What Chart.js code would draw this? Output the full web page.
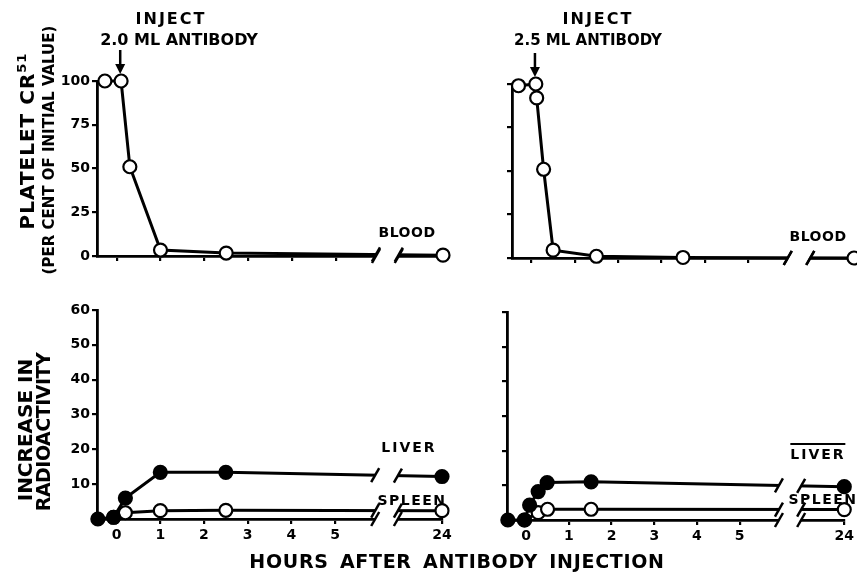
<!DOCTYPE html>
<html lang="en">
<head>
    <meta charset="UTF-8">
    <title>Platelet Cr51 after antibody injection</title>
    <script src="https://cdn.jsdelivr.net/npm/chart.js"></script>
    <style>
        body, html {
            margin: 0;
            padding: 0;
            width: 857px;
            height: 574px;
            overflow: hidden;
            background: #fff;
        }
        canvas {
            position: absolute;
            left: 0;
            top: 0;
        }
        .t {
            position: absolute;
            font-family: "DejaVu Sans", sans-serif;
            font-weight: bold;
            color: #000;
            white-space: nowrap;
            line-height: 1;
            transform: translate(-50%, -50%);
        }
        .v {
            transform: translate(-50%, -50%) rotate(-90deg);
        }
    </style>
</head>
<body>
    <canvas id="bloodA" width="857" height="574"></canvas>
    <canvas id="bloodB" width="857" height="574"></canvas>
    <canvas id="organA" width="857" height="574"></canvas>
    <canvas id="organB" width="857" height="574"></canvas>

    <div class="t" style="left:171px;top:19px;font-size:16px;letter-spacing:2px">INJECT</div>
    <div class="t" style="left:179px;top:40px;font-size:16px">2.0 ML ANTIBODY</div>
    <div class="t" style="left:598px;top:19px;font-size:16px;letter-spacing:2px">INJECT</div>
    <div class="t" style="left:588px;top:40px;font-size:15px">2.5 ML ANTIBODY</div>

    <div class="t" style="left:407px;top:232px;font-size:14px;letter-spacing:0.5px">BLOOD</div>
    <div class="t" style="left:818px;top:236px;font-size:14px;letter-spacing:0.5px">BLOOD</div>
    <div class="t" style="left:409px;top:447px;font-size:14px;letter-spacing:2px">LIVER</div>
    <div class="t" style="left:412px;top:500px;font-size:14px;letter-spacing:1.5px">SPLEEN</div>
    <div class="t" style="left:818px;top:452px;font-size:14px;letter-spacing:2px;border-top:2px solid #000;padding-top:2px">LIVER</div>
    <div class="t" style="left:823px;top:499px;font-size:14px;letter-spacing:1.5px">SPLEEN</div>

    <div class="t v" style="left:26px;top:141px;font-size:20px;letter-spacing:1px">PLATELET CR<sup style="font-size:13px">51</sup></div>
    <div class="t v" style="left:49px;top:150px;font-size:15px">(PER CENT OF INITIAL VALUE)</div>
    <div class="t v" style="left:25px;top:430px;font-size:20px">INCREASE IN</div>
    <div class="t v" style="left:43px;top:432px;font-size:19px;letter-spacing:-0.5px">RADIOACTIVITY</div>

    <div class="t" style="left:457px;top:561px;font-size:19px;letter-spacing:0.7px;word-spacing:4px">HOURS AFTER ANTIBODY INJECTION</div>

    <script>
        // x axis ticks (hours); 24 h sits after the axis break
        const hourTicks = [0, 1, 2, 3, 4, 5, 24];
        const hourLabels = ['0', '1', '2', '3', '4', '5', '24'];
        const bloodTicks = [0, 25, 50, 75, 100];
        const bloodTickLabels = ['0', '25', '50', '75', '100'];
        const organTicks = [0, 10, 20, 30, 40, 50, 60];
        const organTickLabels = ['', '10', '20', '30', '40', '50', '60'];

        // 2.0 ml antibody
        const bloodHoursA = [-0.27, 0.1, 0.3, 1, 2.5, 24];
        const bloodPctA = [100, 100, 51, 3.4, 1.7, 0.5];
        const liverHoursA = [-0.43, -0.07, 0.2, 1, 2.5, 24];
        const liverA = [0, 0.5, 6, 13.4, 13.4, 12.2];
        const spleenHoursA = [-0.07, 0.2, 1, 2.5, 24];
        const spleenA = [0.5, 1.8, 2.4, 2.5, 2.4];

        // 2.5 ml antibody
        const bloodHoursB = [-0.3, 0.1, 0.12, 0.28, 0.5, 1.5, 3.5, 24];
        const bloodPctB = [99, 100, 92, 51, 4.5, 1, 0.3, 0];
        const liverHoursB = [-0.43, -0.04, 0.08, 0.28, 0.49, 1.52, 24];
        const liverB = [0, 0, 4.3, 8.2, 10.8, 11, 9.6];
        const spleenHoursB = [-0.04, 0.28, 0.5, 1.52, 24];
        const spleenB = [0, 2.1, 3.1, 3.1, 3];

        const injectionHour = 0.08;
        const breakFrom = 5.92, breakTo = 6.44, axisAt24 = 7.45;
        const toAxis = h => (h >= 24 ? axisAt24 : h);

        const tickFont = { family: 'DejaVu Sans', weight: 'bold', size: 14 };

        function yAt(pts, px) {
            for (let k = 0; k < pts.length - 1; k++) {
                const a = pts[k], b = pts[k + 1];
                if (a.x <= px && b.x >= px) {
                    return a.y + (b.y - a.y) * (px - a.x) / (b.x - a.x);
                }
            }
            return null;
        }

        function slash(ctx, x, y) {
            ctx.beginPath();
            ctx.moveTo(x - 4, y + 7);
            ctx.lineTo(x + 4, y - 7);
            ctx.stroke();
        }

        const breakPlugin = {
            id: 'axisBreak',
            afterDatasetsDraw(chart) {
                const { ctx, chartArea: a, scales: { x } } = chart;
                const x1 = x.getPixelForValue(breakFrom);
                const x2 = x.getPixelForValue(breakTo);
                ctx.save();
                ctx.clearRect(x1, a.top - 12, x2 - x1, a.bottom - a.top + 16);
                ctx.strokeStyle = '#000';
                ctx.lineWidth = 2.5;
                slash(ctx, x1, a.bottom);
                slash(ctx, x2, a.bottom);
                chart.data.datasets.forEach((d, i) => {
                    const pts = chart.getDatasetMeta(i).data;
                    const y1 = yAt(pts, x1), y2 = yAt(pts, x2);
                    if (y1 !== null) slash(ctx, x1, y1);
                    if (y2 !== null) slash(ctx, x2, y2);
                });
                ctx.restore();
            }
        };

        const injectPlugin = {
            id: 'inject',
            afterDraw(chart, args, opts) {
                if (!opts.show) return;
                const { ctx, chartArea: a, scales: { x } } = chart;
                const px = x.getPixelForValue(injectionHour);
                const tip = a.top - 7;
                ctx.save();
                ctx.strokeStyle = '#000';
                ctx.fillStyle = '#000';
                ctx.lineWidth = 2.5;
                ctx.beginPath();
                ctx.moveTo(px, tip - 24);
                ctx.lineTo(px, tip - 8);
                ctx.stroke();
                ctx.beginPath();
                ctx.moveTo(px - 5, tip - 10);
                ctx.lineTo(px + 5, tip - 10);
                ctx.lineTo(px, tip);
                ctx.closePath();
                ctx.fill();
                ctx.restore();
            }
        };

        function series(hours, values, filled) {
            return {
                data: hours.map((h, i) => ({ x: toAxis(h), y: values[i] })),
                showLine: true,
                borderColor: '#000',
                borderWidth: 3,
                pointRadius: 6.5,
                pointHoverRadius: 6.5,
                pointBackgroundColor: filled ? '#000' : '#fff',
                pointBorderColor: '#000',
                pointBorderWidth: 2.2,
                tension: 0,
                clip: false
            };
        }

        function makeChart(id, area, yTicks, yLabels, yMax, showXLabels, showInject, datasets) {
            const axisLook = {
                grid: { drawOnChartArea: false, drawTicks: true, tickLength: 5, color: '#000', lineWidth: 2.2 },
                border: { display: true, color: '#000', width: 2.8 }
            };
            new Chart(document.getElementById(id), {
                type: 'scatter',
                data: { datasets: datasets },
                options: {
                    responsive: false,
                    animation: false,
                    events: [],
                    layout: {
                        autoPadding: false,
                        padding: {
                            left: area.left - area.yw,
                            top: area.top,
                            right: 857 - area.right,
                            bottom: 574 - area.bottom - area.xh
                        }
                    },
                    plugins: {
                        legend: { display: false },
                        tooltip: { enabled: false },
                        inject: { show: showInject }
                    },
                    scales: {
                        x: {
                            type: 'linear',
                            min: -0.45,
                            max: axisAt24,
                            afterBuildTicks: s => { s.ticks = hourTicks.map(h => ({ value: toAxis(h) })); },
                            afterFit: s => { s.height = area.xh; },
                            ticks: {
                                autoSkip: false,
                                maxRotation: 0,
                                padding: 3,
                                color: '#000',
                                font: tickFont,
                                callback: (v, i) => (showXLabels ? hourLabels[i] : '')
                            },
                            ...axisLook
                        },
                        y: {
                            min: 0,
                            max: yMax,
                            afterBuildTicks: s => { s.ticks = yTicks.map(v => ({ value: v })); },
                            afterFit: s => { s.width = area.yw; },
                            ticks: {
                                padding: 2,
                                color: '#000',
                                font: tickFont,
                                callback: (v, i) => (yLabels ? yLabels[i] : '')
                            },
                            ...axisLook
                        }
                    }
                },
                plugins: [breakPlugin, injectPlugin]
            });
        }

        makeChart('bloodA', { left: 97, right: 443, top: 81, bottom: 256, yw: 45, xh: 10 },
            bloodTicks, bloodTickLabels, 100, false, true,
            [series(bloodHoursA, bloodPctA, false)]);

        makeChart('bloodB', { left: 512, right: 855, top: 84, bottom: 258, yw: 10, xh: 10 },
            bloodTicks, null, 100, false, true,
            [series(bloodHoursB, bloodPctB, false)]);

        makeChart('organA', { left: 97, right: 442, top: 310, bottom: 519, yw: 45, xh: 25 },
            organTicks, organTickLabels, 60, true, false,
            [series(liverHoursA, liverA, true), series(spleenHoursA, spleenA, false)]);

        makeChart('organB', { left: 507, right: 852, top: 312, bottom: 520, yw: 10, xh: 25 },
            organTicks, null, 60, true, false,
            [series(liverHoursB, liverB, true), series(spleenHoursB, spleenB, false)]);
    </script>
</body>
</html>
